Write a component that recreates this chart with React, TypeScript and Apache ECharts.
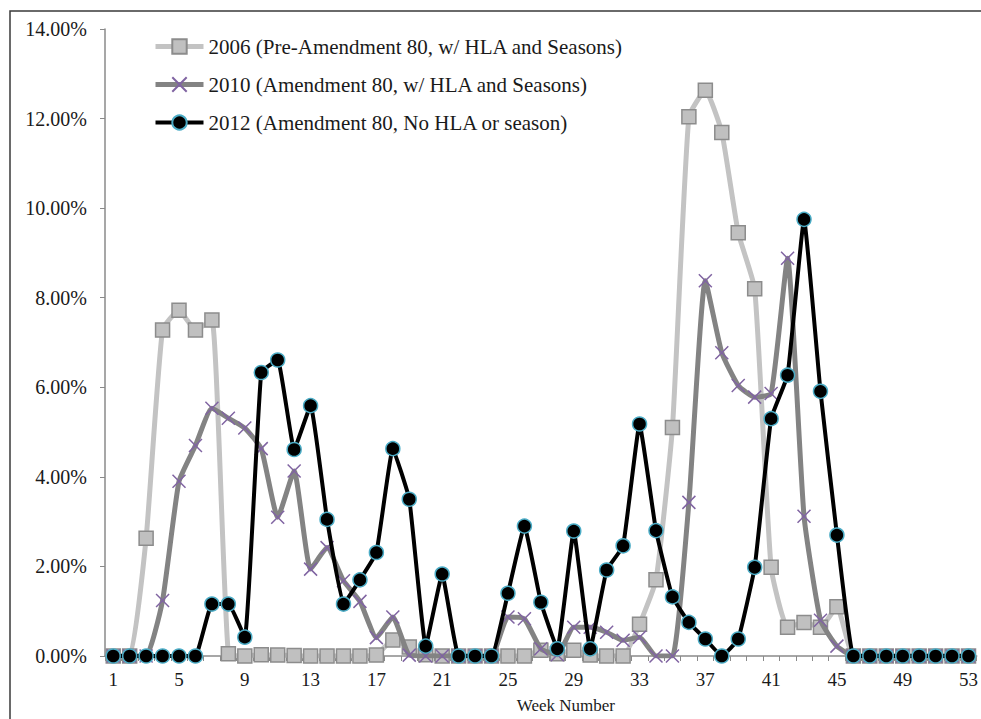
import React, { useEffect, useRef } from "react";
import * as echarts from "echarts";

const weeks = [
  "1", "2", "3", "4", "5", "6", "7", "8", "9", "10",
  "11", "12", "13", "14", "15", "16", "17", "18", "19", "20",
  "21", "22", "23", "24", "25", "26", "27", "28", "29", "30",
  "31", "32", "33", "34", "35", "36", "37", "38", "39", "40",
  "41", "42", "43", "44", "45", "46", "47", "48", "49", "50",
  "51", "52", "53",
];

const seriesNames = [
  "2006 (Pre-Amendment 80, w/ HLA and Seasons)",
  "2010 (Amendment 80, w/ HLA and Seasons)",
  "2012 (Amendment 80, No HLA or season)",
];

const values2006 = [
  0, 0, 2.63, 7.28, 7.72, 7.28, 7.5, 0.05, 0, 0.03,
  0.02, 0.01, 0, 0, 0, 0, 0.02, 0.36, 0.2, 0.03,
  0, 0, 0, 0, 0, 0, 0.13, 0.05, 0.13, 0.02,
  0, 0, 0.71, 1.7, 5.1, 12.04, 12.63, 11.69, 9.45, 8.2,
  1.98, 0.64, 0.75, 0.64, 1.1, 0, 0, 0, 0, 0,
  0, 0, 0,
];

const values2010 = [
  0, 0, 0, 1.24, 3.9, 4.7, 5.53, 5.31, 5.09, 4.63,
  3.1, 4.13, 1.94, 2.42, 1.68, 1.22, 0.41, 0.87, 0.02, 0,
  0, 0, 0, 0, 0.87, 0.83, 0.16, 0.03, 0.64, 0.64,
  0.53, 0.35, 0.42, 0, 0, 3.43, 8.38, 6.77, 6.04, 5.78,
  5.86, 8.88, 3.12, 0.8, 0.22, 0, 0, 0, 0, 0,
  0, 0, 0,
];

const values2012 = [
  0, 0, 0, 0, 0, 0, 1.16, 1.16, 0.42, 6.33,
  6.61, 4.61, 5.59, 3.05, 1.16, 1.7, 2.31, 4.63, 3.5, 0.22,
  1.83, 0, 0, 0, 1.4, 2.9, 1.2, 0.16, 2.79, 0.16,
  1.92, 2.46, 5.18, 2.8, 1.32, 0.75, 0.38, 0, 0.38, 1.98,
  5.3, 6.27, 9.75, 5.91, 2.7, 0, 0, 0, 0, 0,
  0, 0, 0,
];

const FONT = "Liberation Serif";
const X_SYMBOL = "path://M0,0L10,10M10,0L0,10";

export default function App() {
  const ref = useRef<HTMLDivElement>(null);

  useEffect(() => {
    if (!ref.current) return;
    const chart = echarts.init(ref.current, undefined, { renderer: "svg" });
    const option: any = {
      animation: false,
      backgroundColor: "#ffffff",
      textStyle: { fontFamily: FONT },
      graphic: [
        {
          type: "rect",
          shape: { x: 10, y: 11, width: 1200, height: 1000 },
          style: { fill: "none", stroke: "#3a3a3a", lineWidth: 1.5 },
          silent: true,
        },
      ],
      grid: { left: 105, right: 4, top: 29, bottom: 60, containLabel: false },
      legend: {
        orient: "vertical",
        left: 148,
        top: 31,
        itemWidth: 48,
        itemHeight: 18,
        itemGap: 17,
        selectedMode: false,
        textStyle: { fontFamily: FONT, fontSize: 21, color: "#1a1a1a" },
        data: [
          { name: seriesNames[0], lineStyle: { width: 5 } },
          { name: seriesNames[1], lineStyle: { width: 5 } },
          { name: seriesNames[2], lineStyle: { width: 4 } },
        ],
      },
      xAxis: {
        type: "category",
        data: weeks,
        boundaryGap: true,
        name: "Week Number",
        nameLocation: "middle",
        nameGap: 41,
        nameTextStyle: {
          fontFamily: FONT,
          fontSize: 17,
          color: "#1a1a1a",
          padding: [0, 0, 0, 50],
        },
        axisLine: { show: true, lineStyle: { color: "#8a8a8a", width: 1.5 } },
        axisTick: { show: true, interval: 0, length: 5, lineStyle: { color: "#8a8a8a" } },
        axisLabel: {
          interval: 3,
          margin: 14,
          fontFamily: FONT,
          fontSize: 19,
          color: "#1a1a1a",
        },
        splitLine: { show: false },
      },
      yAxis: {
        type: "value",
        min: 0,
        max: 14,
        interval: 2,
        axisLine: { show: true, lineStyle: { color: "#8a8a8a", width: 1.5 } },
        axisTick: { show: true, length: 5, lineStyle: { color: "#8a8a8a" } },
        axisLabel: {
          margin: 18,
          fontFamily: FONT,
          fontSize: 20,
          color: "#1a1a1a",
          formatter: (v: number) => v.toFixed(2) + "%",
        },
        splitLine: { show: false },
      },
      series: [
        {
          name: seriesNames[0],
          type: "line",
          data: values2006,
          smooth: 0.15,
          showAllSymbol: true,
          symbol: "rect",
          symbolSize: 14,
          lineStyle: { color: "#c3c3c3", width: 5 },
          itemStyle: { color: "#c0c0c0", borderColor: "#8c8c8c", borderWidth: 1.5 },
          emphasis: { disabled: true },
          z: 2,
        },
        {
          name: seriesNames[1],
          type: "line",
          data: values2010,
          smooth: 0.15,
          showAllSymbol: true,
          symbol: X_SYMBOL,
          symbolSize: 13,
          lineStyle: { color: "#838383", width: 5 },
          itemStyle: { color: "#8064a2", borderColor: "#8064a2", borderWidth: 1.5 },
          emphasis: { disabled: true },
          z: 3,
        },
        {
          name: seriesNames[2],
          type: "line",
          data: values2012,
          smooth: 0.1,
          showAllSymbol: true,
          symbol: "circle",
          symbolSize: 14,
          lineStyle: { color: "#000000", width: 4 },
          itemStyle: { color: "#000000", borderColor: "#4bacc6", borderWidth: 1.5 },
          emphasis: { disabled: true },
          z: 4,
        },
      ],
    };
    chart.setOption(option);
    return () => chart.dispose();
  }, []);

  return (
    <div
      ref={ref}
      style={{ position: "fixed", left: 0, top: 0, width: 981, height: 719 }}
    />
  );
}
